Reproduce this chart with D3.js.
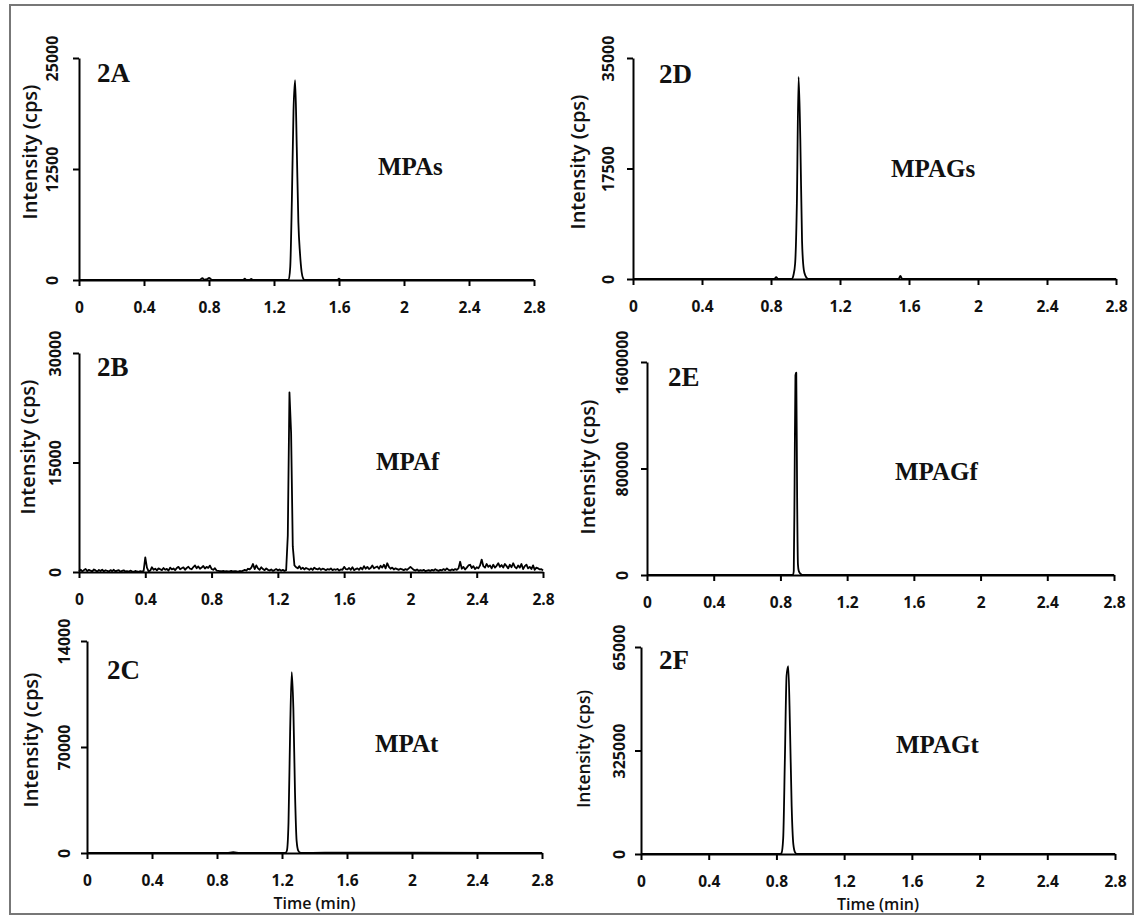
<!DOCTYPE html>
<html>
<head>
<meta charset="utf-8">
<script src="https://cdn.jsdelivr.net/npm/d3@7"></script>
<style>
  body { margin: 0; background: #fff; }
  .tick text { font-family: "Open Sans", sans-serif; font-weight: 700; fill: #111; }
  .ylab, .xlab { font-family: "Open Sans", sans-serif; font-weight: 600; fill: #111; }
  .tag { font-family: "Liberation Serif", "Times New Roman", serif; font-weight: 700; fill: #111; }
</style>
</head>
<body>
<div id="chart"></div>
<script>
// x ticks shared by every panel
var xTicks = [0, 0.4, 0.8, 1.2, 1.6, 2, 2.4, 2.8];
var xTickLabels = ["0", "0.4", "0.8", "1.2", "1.6", "2", "2.4", "2.8"];

// 2A MPAs
var timeA = [0, 0.74, 0.76, 0.77, 0.79, 0.80, 0.82, 1.01, 1.02, 1.03, 1.05, 1.06, 1.07, 1.29, 1.30, 1.31, 1.32, 1.33, 1.34, 1.35, 1.36, 1.37, 1.38, 1.39, 1.59, 1.60, 1.61, 2.8];
var intA  = [0, 0, 200, 40, 100, 250, 0, 0, 150, 0, 0, 120, 0, 0, 1500, 9000, 19000, 22500, 15000, 6500, 3000, 900, 150, 0, 0, 150, 0, 0];
var yTicksA = [0, 12500, 25000];
var yLabelsA = ["0", "12500", "25000"];

// 2B MPAf (sampled every 0.01 min)
var stepB = 0.01;
var intB = [
  150, 320, 80, 260, 410, 120, 300, 180, 90, 350, 220, 60, 280, 140, 330, 100, 240, 170, 50, 260,
  120, 300, 80, 190, 260, 40, 150, 230, 70, 110, 60, 180, 90, 30, 140, 70, 20, 110, 60, 150,
  2000, 600, 80, 200, 650, 300, 450, 220, 500, 380, 260, 540, 310, 420, 180, 600, 350, 480, 250, 560,
  700, 380, 520, 640, 300, 560, 720, 450, 380, 680, 900, 520, 760, 430, 610, 820, 480, 700, 560, 880,
  420, 300, 520, 200, 160, 120, 100, 140, 90, 130, 80, 110, 150, 70, 120, 100, 60, 140, 90, 180,
  300, 200, 450, 350, 600, 1100, 400, 900, 500, 300, 650, 400, 250, 480, 300, 200, 350, 150, 260, 400,
  220, 350, 180, 300, 150, 250, 5000, 24600, 19000, 3500, 900, 650, 500, 800, 400, 600, 350, 550, 450, 300,
  500, 280, 600, 420, 350, 520, 300, 450, 380, 250, 400, 320, 480, 260, 380, 300, 420, 200, 350, 300,
  700, 400, 350, 550, 300, 650, 250, 400, 500, 300, 600, 350, 800, 450, 700, 400, 550, 900, 500, 650,
  750, 450, 850, 600, 1000, 500, 1200, 700, 450, 600, 350, 500, 400, 300, 450, 350, 250, 400, 300, 500,
  700, 500, 300, 200, 350, 150, 250, 180, 300, 120, 200, 250, 150, 300, 200, 380, 250, 150, 300, 220,
  400, 250, 500, 300, 200, 350, 250, 400, 300, 500, 1400, 450, 700, 350, 600, 900, 1000, 550, 800, 400,
  650, 500, 900, 1700, 800, 600, 1100, 700, 900, 500, 1000, 600, 850, 1200, 700, 950, 600, 1100, 800, 500,
  1000, 650, 1200, 700, 500, 900, 600, 1100, 400, 800, 1000, 500, 700, 400, 900, 300, 600, 500, 350, 400, 200
];
var yTicksB = [0, 15000, 30000];
var yLabelsB = ["0", "15000", "30000"];

// 2C MPAt
var timeC = [0, 0.86, 0.90, 0.94, 1.22, 1.23, 1.24, 1.25, 1.26, 1.27, 1.28, 1.29, 1.30, 1.31, 1.33, 1.6, 2.0, 2.8];
var intC  = [0, 0, 500, 0, 0, 1500, 20000, 80000, 119500, 95000, 40000, 8000, 1500, 300, 0, 300, 300, 0];
var yTicksC = [0, 70000, 140000];
var yLabelsC = ["0", "70000", "14000"];

// 2D MPAGs
var timeD = [0, 0.82, 0.83, 0.84, 0.92, 0.93, 0.94, 0.95, 0.96, 0.97, 0.98, 0.99, 1.00, 1.01, 1.02, 1.54, 1.55, 1.56, 2.8];
var intD  = [0, 0, 300, 0, 0, 600, 2500, 12000, 32000, 22000, 6000, 1500, 500, 100, 0, 0, 500, 0, 0];
var yTicksD = [0, 17500, 35000];
var yLabelsD = ["0", "17500", "35000"];

// 2E MPAGf
var timeE = [0, 0.875, 0.88, 0.885, 0.89, 0.895, 0.90, 0.905, 0.91, 0.92, 0.93, 2.8];
var intE  = [0, 0, 30000, 700000, 1500000, 1520000, 600000, 80000, 30000, 10000, 0, 0];
var yTicksE = [0, 800000, 1600000];
var yLabelsE = ["0", "800000", "1600000"];

// 2F MPAGt
var timeF = [0, 0.82, 0.83, 0.84, 0.85, 0.86, 0.87, 0.88, 0.89, 0.90, 0.91, 0.92, 2.8];
var intF  = [0, 0, 3000, 50000, 300000, 560000, 590000, 400000, 150000, 30000, 5000, 0, 0];
var yTicksF = [0, 325000, 650000];
var yLabelsF = ["0", "325000", "65000"];

var timeB = intB.map(function(d, i) { return +(i * stepB).toFixed(2); });

// panel layout (pixels)
var panels = [
  {tag: "2A", name: "MPAs",  t: timeA, v: intA, yt: yTicksA, yl: yLabelsA, x0: 79,  x1: 534,  y0: 280, y1: 58,  tickOff: 27, labX: 30,  labY: 152, tagX: 97,  tagY: 82,  nameX: 378, nameY: 175, smooth: true},
  {tag: "2B", name: "MPAf",  t: timeB, v: intB, yt: yTicksB, yl: yLabelsB, x0: 79,  x1: 543,  y0: 572, y1: 353, tickOff: 24, labX: 28,  labY: 447, tagX: 97,  tagY: 376, nameX: 376, nameY: 470, smooth: false},
  {tag: "2C", name: "MPAt",  t: timeC, v: intC, yt: yTicksC, yl: yLabelsC, x0: 87,  x1: 542,  y0: 853, y1: 641, tickOff: 23, labX: 31,  labY: 740, tagX: 107, tagY: 679, nameX: 375, nameY: 752, smooth: true, time: true},
  {tag: "2D", name: "MPAGs", t: timeD, v: intD, yt: yTicksD, yl: yLabelsD, x0: 633, x1: 1116, y0: 279, y1: 58,  tickOff: 25, labX: 578, labY: 162, tagX: 659, tagY: 83,  nameX: 891, nameY: 177, smooth: true},
  {tag: "2E", name: "MPAGf", t: timeE, v: intE, yt: yTicksE, yl: yLabelsE, x0: 647, x1: 1114, y0: 575, y1: 362, tickOff: 25, labX: 588, labY: 467, tagX: 668, tagY: 386, nameX: 895, nameY: 480, smooth: true},
  {tag: "2F", name: "MPAGt", t: timeF, v: intF, yt: yTicksF, yl: yLabelsF, x0: 641, x1: 1115, y0: 854, y1: 647, tickOff: 22, labX: 584, labY: 749, tagX: 659, tagY: 669, nameX: 896, nameY: 753, smooth: true, time: true, small: true}
];

var width = 1136, height = 915;

var svg = d3.select("#chart").append("svg")
    .attr("width", width)
    .attr("height", height);

// outer frame
svg.append("rect")
    .attr("x", 10).attr("y", 5)
    .attr("width", 1123).attr("height", 909)
    .attr("fill", "none")
    .attr("stroke", "#777")
    .attr("stroke-width", 2);

panels.forEach(function(p) {
    var xScale = d3.scaleLinear().domain([0, 2.8]).range([p.x0, p.x1]);
    var yScale = d3.scaleLinear().domain([0, p.yt[2]]).range([p.y0, p.y1]);

    var g = svg.append("g");

    // trace
    var line = d3.line()
        .x(function(d, i) { return xScale(p.t[i]); })
        .y(function(d) { return yScale(d); })
        .curve(p.smooth ? d3.curveMonotoneX : d3.curveLinear);

    g.append("path")
        .datum(p.v)
        .attr("d", line)
        .attr("fill", "none")
        .attr("stroke", "#000")
        .attr("stroke-width", 1.8)
        .attr("stroke-linejoin", "round");

    // x axis
    var bottomAxis = d3.axisBottom(xScale)
        .tickValues(xTicks)
        .tickSize(6)
        .tickSizeOuter(0)
        .tickFormat(function(d, i) { return xTickLabels[i]; });

    var gx = g.append("g")
        .attr("transform", "translate(0," + p.y0 + ")")
        .call(bottomAxis);
    gx.selectAll("path, line").attr("stroke", "#000").attr("stroke-width", 2);
    gx.selectAll("text")
        .attr("y", 22)
        .attr("dy", "0.71em")
        .style("font-size", "15.5px");

    // y axis
    var leftAxis = d3.axisLeft(yScale)
        .tickValues(p.yt)
        .tickSize(6)
        .tickSizeOuter(0)
        .tickFormat(function(d, i) { return p.yl[i]; });

    var gy = g.append("g")
        .attr("transform", "translate(" + p.x0 + ",0)")
        .call(leftAxis);
    gy.selectAll("path, line").attr("stroke", "#000").attr("stroke-width", 2);
    gy.selectAll("text")
        .attr("transform", "rotate(-90)")
        .attr("x", 0)
        .attr("y", -p.tickOff)
        .attr("dy", "0.36em")
        .attr("text-anchor", "middle")
        .style("font-size", "16px");

    // y title
    g.append("text")
        .attr("class", "ylab")
        .attr("transform", "translate(" + p.labX + "," + p.labY + ")rotate(-90)")
        .attr("text-anchor", "middle")
        .attr("dy", "0.36em")
        .style("font-size", p.small ? "17.5px" : "20px")
        .text("Intensity (cps)");

    if (p.time) {
        g.append("text")
            .attr("class", "xlab")
            .attr("x", (p.x0 + p.x1) / 2)
            .attr("y", p.y0 + 56)
            .attr("text-anchor", "middle")
            .style("font-size", "16px")
            .text("Time (min)");
    }

    g.append("text")
        .attr("class", "tag")
        .attr("x", p.tagX).attr("y", p.tagY)
        .style("font-size", "27px")
        .text(p.tag);

    g.append("text")
        .attr("class", "tag")
        .attr("x", p.nameX).attr("y", p.nameY)
        .style("font-size", "25px")
        .text(p.name);
});
</script>
</body>
</html>
